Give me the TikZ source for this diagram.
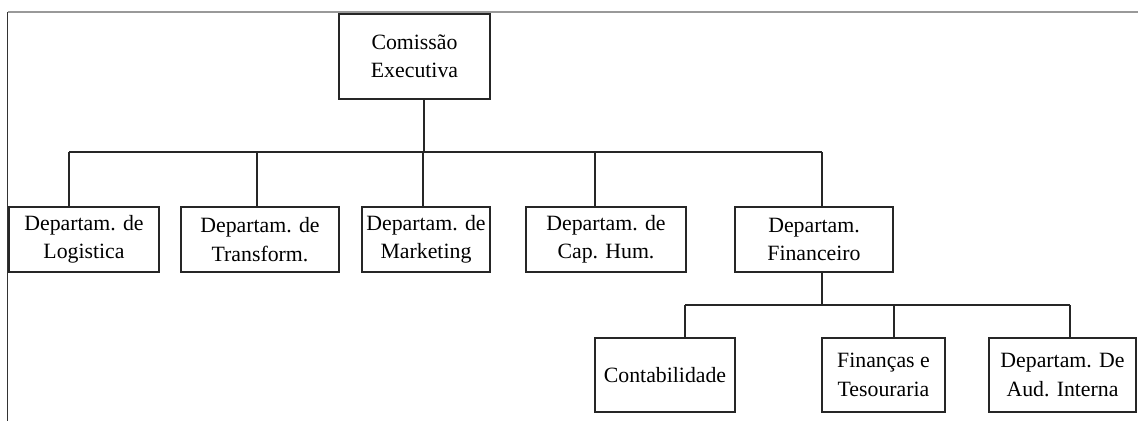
\documentclass[tikz,border=0pt]{standalone}
\usepackage{fontspec}
\setmainfont{Liberation Serif}
\begin{document}
\begin{tikzpicture}[x=1pt,y=1pt,
  box/.style={draw=black!85, line width=1.6pt, rectangle, inner sep=0pt, align=center,
    font=\fontsize{21.8}{28.5}\selectfont, text=black},
  conn/.style={draw=black!85, line width=1.6pt}]
\useasboundingbox (0,0) rectangle (1138,-421);
% frame
\coordinate (f0) at (7.5,-12);
\coordinate (f1) at (1138,-12);
\coordinate (f2) at (7.5,-421);
\draw[gray!80, line width=1.5pt] (f0) -- (f1);
\draw[black!80, line width=1.5pt] (f0) -- (f2);
% nodes
\node[box, minimum width=151, minimum height=85] (top) at (414.5,-56.5) {Comissão\\Executiva};
\node[box, minimum width=150, minimum height=65] (log) at (84,-239.5) {Departam. de\\Logistica};
\node[box, minimum width=158, minimum height=65] (tra) at (260,-239.5) {Departam. de\\Transform.};
\node[box, minimum width=128, minimum height=65] (mar) at (426,-239.5) {Departam. de\\Marketing};
\node[box, minimum width=160, minimum height=65] (cap) at (606,-239.5) {Departam. de\\Cap. Hum.};
\node[box, minimum width=158, minimum height=65] (fin) at (814,-239.5) {Departam.\\Financeiro};
\node[box, minimum width=140, minimum height=74] (con) at (665,-375) {Contabilidade};
\node[box, minimum width=123, minimum height=74] (fit) at (883.5,-375) {Finanças e\\Tesouraria};
\node[box, minimum width=147, minimum height=74] (aud) at (1062.5,-375) {Departam. De\\Aud. Interna};
% level 1 bus
\coordinate (b0) at (424,-152);
\coordinate (b1) at (69,-152);
\coordinate (b2) at (257,-152);
\coordinate (b3) at (423,-152);
\coordinate (b4) at (595,-152);
\coordinate (b5) at (822,-152);
\draw[conn] (top.south -| b0) -- (b0);
\draw[conn] (b1) -- (b5);
\draw[conn] (b1) -- (b1 |- log.north);
\draw[conn] (b2) -- (b2 |- tra.north);
\draw[conn] (b3) -- (b3 |- mar.north);
\draw[conn] (b4) -- (b4 |- cap.north);
\draw[conn] (b5) -- (b5 |- fin.north);
% level 2 bus
\coordinate (c0) at (822,-305);
\coordinate (c1) at (685,-305);
\coordinate (c2) at (894,-305);
\coordinate (c3) at (1070,-305);
\draw[conn] (fin.south -| c0) -- (c0);
\draw[conn] (c1) -- (c3);
\draw[conn] (c1) -- (c1 |- con.north);
\draw[conn] (c2) -- (c2 |- fit.north);
\draw[conn] (c3) -- (c3 |- aud.north);
\end{tikzpicture}
\end{document}
